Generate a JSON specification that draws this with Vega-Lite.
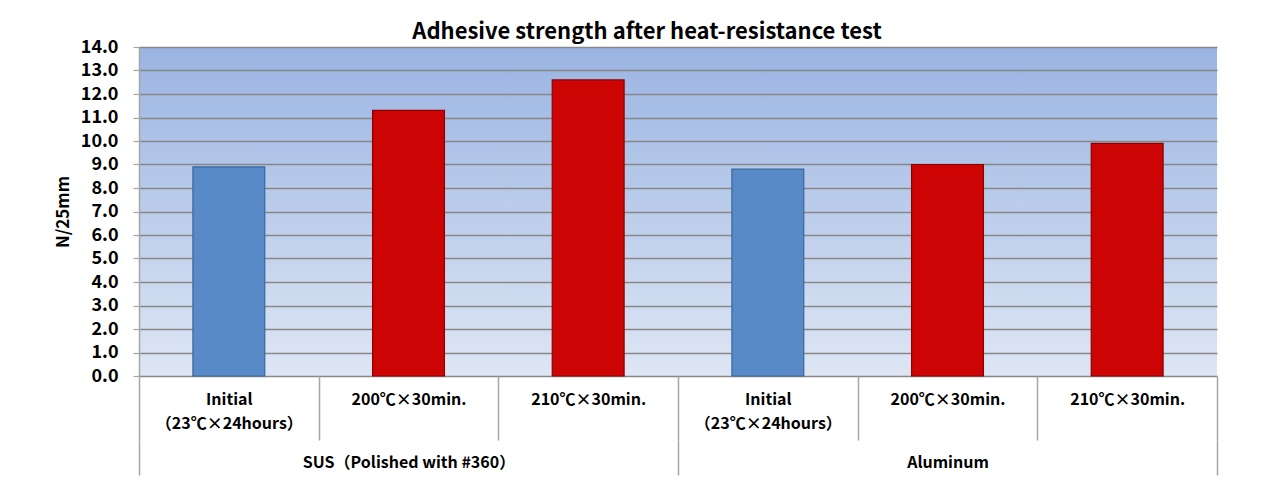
{
  "$schema": "https://vega.github.io/schema/vega-lite/v6.json",
  "autosize": "none",
  "width": 1078,
  "height": 329,
  "padding": {"left": 139, "top": 47, "right": 70, "bottom": 113},
  "background": "white",
  "config": {
    "font": "Noto Sans CJK JP",
    "view": {"stroke": null}
  },
  "view": {
    "stroke": null,
    "fill": {
      "gradient": "linear",
      "x1": 0, "y1": 0, "x2": 0, "y2": 1,
      "stops": [
        {"offset": 0, "color": "#9AB4E2"},
        {"offset": 1, "color": "#DEE6F4"}
      ]
    }
  },
  "title": {
    "text": "Adhesive strength after heat-resistance test",
    "font": "Noto Sans CJK JP",
    "fontSize": 22,
    "fontWeight": "bold",
    "color": "black",
    "anchor": "middle",
    "baseline": "bottom",
    "dx": -31,
    "offset": -28
  },
  "data": {
    "values": [
      {"group": "SUS（Polished with #360）", "key": "S|Initial|（23℃×24hours）", "type": "initial", "value": 8.9},
      {"group": "SUS（Polished with #360）", "key": "S|200℃×30min.", "type": "heated", "value": 11.3},
      {"group": "SUS（Polished with #360）", "key": "S|210℃×30min.", "type": "heated", "value": 12.6},
      {"group": "Aluminum", "key": "A|Initial|（23℃×24hours）", "type": "initial", "value": 8.8},
      {"group": "Aluminum", "key": "A|200℃×30min.", "type": "heated", "value": 9.0},
      {"group": "Aluminum", "key": "A|210℃×30min.", "type": "heated", "value": 9.9}
    ]
  },
  "layer": [
    {
      "mark": {"type": "bar", "strokeWidth": 1.2, "width": {"band": 0.4}},
      "encoding": {
        "x": {
          "field": "key",
          "type": "nominal",
          "sort": null,
          "scale": {"paddingInner": 0, "paddingOuter": 0},
          "axis": {
            "title": null,
            "labelExpr": "slice(split(datum.label, '|'), 1)",
            "labelAngle": 0,
            "labelFontSize": 16,
            "labelFontWeight": "bold",
            "labelColor": "black",
            "labelLineHeight": 24,
            "labelBaseline": "top",
            "labelPadding": -49,
            "labelLimit": 400,
            "domain": false,
            "ticks": true,
            "tickBand": "extent",
            "tickSize": 64,
            "tickColor": "#A6A6A6",
            "tickWidth": 1.5
          }
        },
        "y": {
          "field": "value",
          "type": "quantitative",
          "scale": {"domain": [0, 14], "nice": false},
          "axis": {
            "title": "N/25mm",
            "titleFontSize": 17,
            "titleFontWeight": "bold",
            "titleColor": "black",
            "titlePadding": 8,
            "values": [0,1,2,3,4,5,6,7,8,9,10,11,12,13,14],
            "format": ".1f",
            "labelFontSize": 18,
            "labelFontWeight": "bold",
            "labelColor": "black",
            "labelPadding": 15,
            "grid": true,
            "gridColor": "#888888",
            "gridWidth": 1.6,
            "domain": true,
            "domainColor": "#A6A6A6",
            "domainWidth": 1.5,
            "tickColor": "#A6A6A6",
            "tickSize": 6,
            "tickWidth": 1.2
          }
        },
        "fill": {
          "field": "type",
          "type": "nominal",
          "scale": {"domain": ["initial", "heated"], "range": ["#588AC8", "#CC0404"]},
          "legend": null
        },
        "stroke": {
          "field": "type",
          "type": "nominal",
          "scale": {"domain": ["initial", "heated"], "range": ["#3A679E", "#8E0000"]},
          "legend": null
        }
      }
    },
    {
      "mark": {"type": "rect", "opacity": 0},
      "encoding": {
        "x": {
          "field": "group",
          "type": "nominal",
          "sort": null,
          "scale": {"paddingInner": 0, "paddingOuter": 0},
          "axis": {
            "orient": "bottom",
            "offset": 64,
            "title": null,
            "labelAngle": 0,
            "labelFontSize": 16,
            "labelFontWeight": "bold",
            "labelColor": "black",
            "labelBaseline": "top",
            "labelPadding": -21,
            "labelLimit": 400,
            "domain": false,
            "ticks": true,
            "tickBand": "extent",
            "tickSize": 35,
            "tickColor": "#A6A6A6",
            "tickWidth": 1.5
          }
        }
      }
    }
  ],
  "resolve": {"scale": {"x": "independent", "fill": "independent", "stroke": "independent"}}
}
